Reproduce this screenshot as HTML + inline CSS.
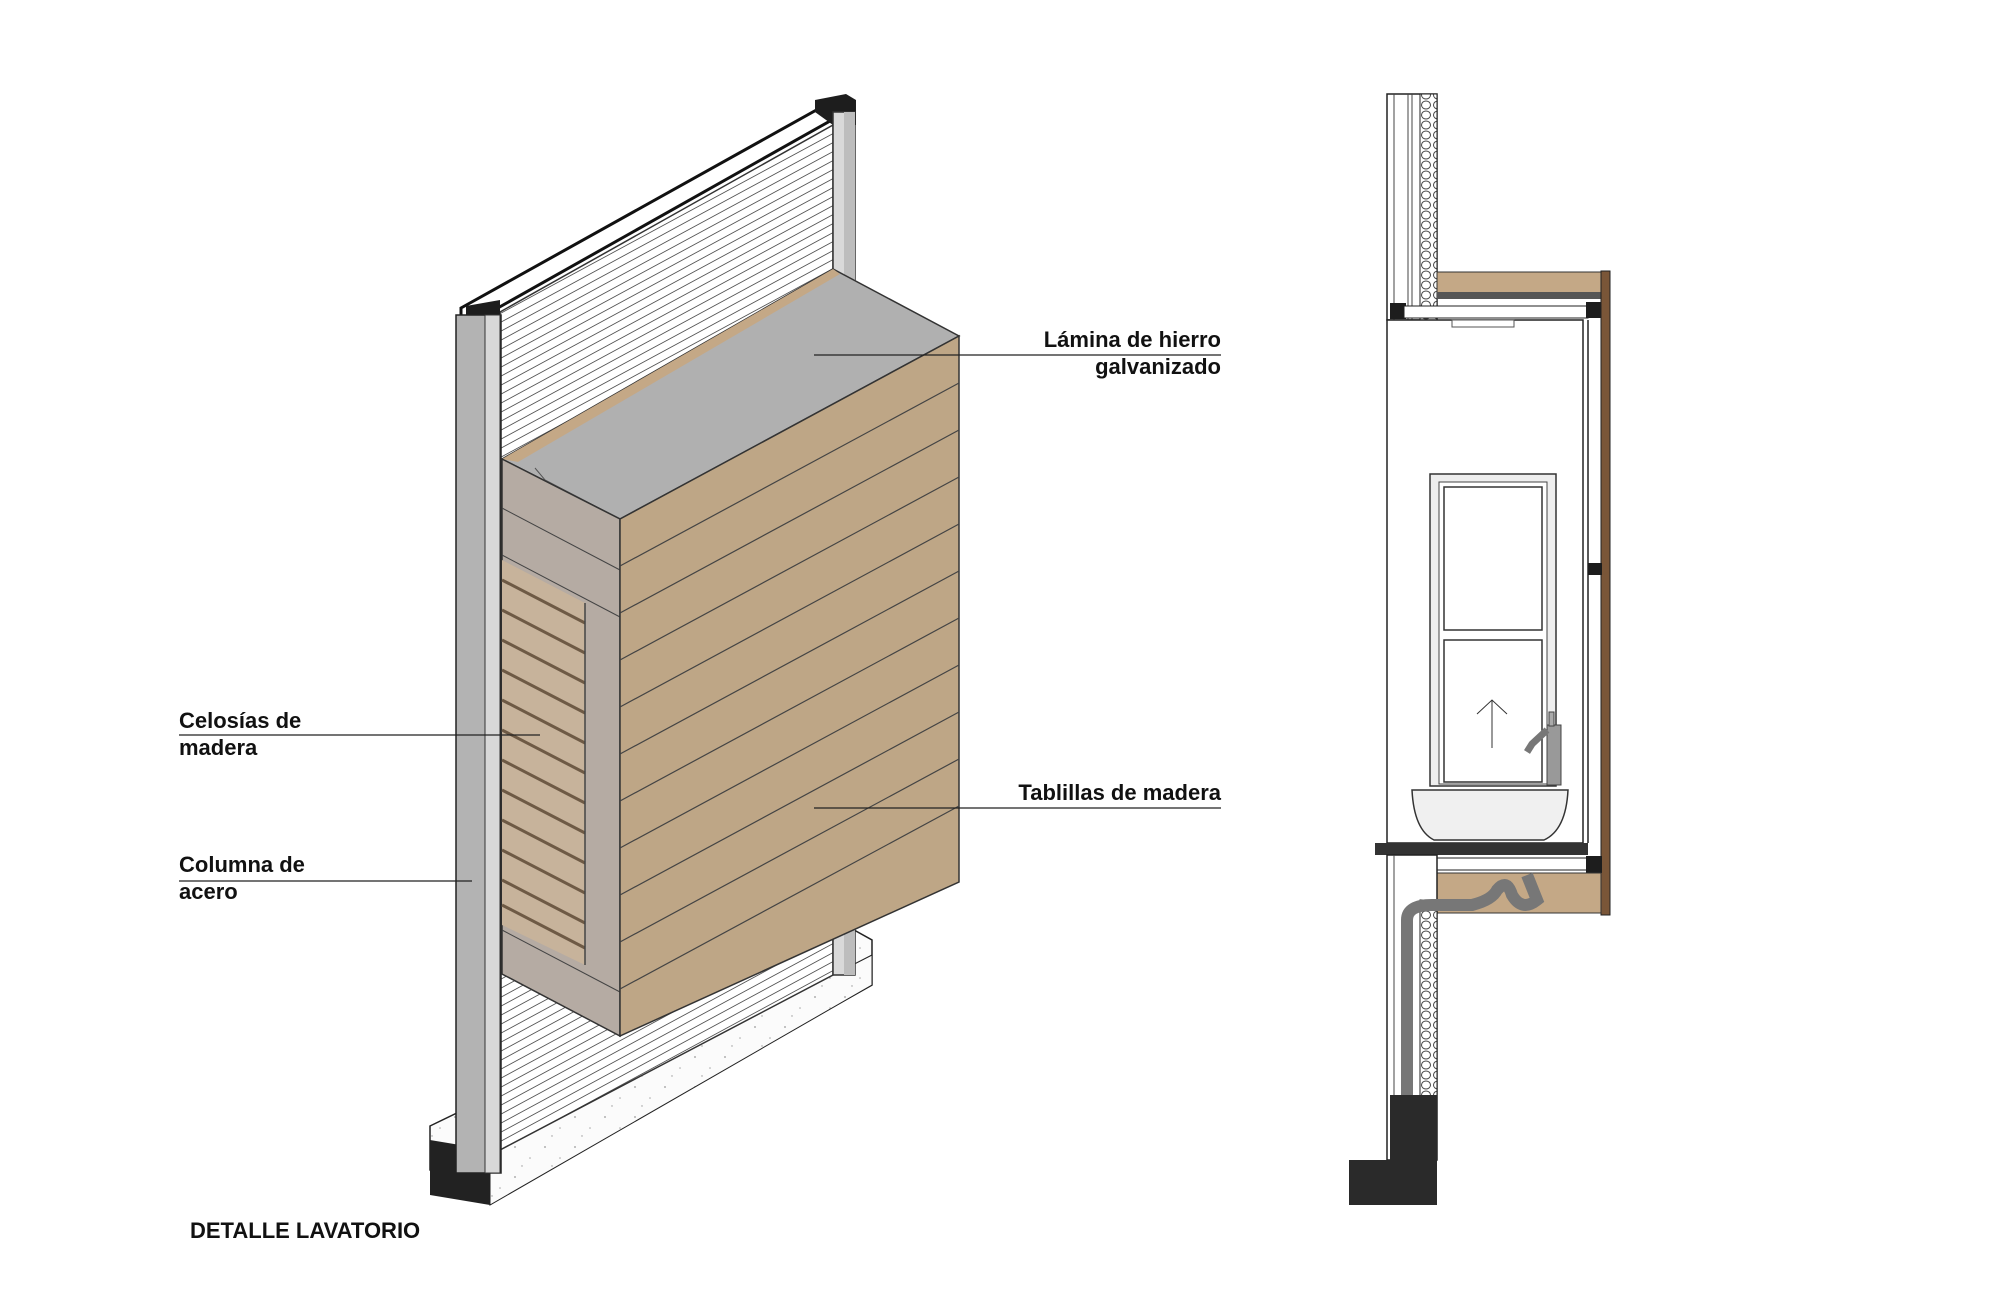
<!DOCTYPE html>
<html><head><meta charset="utf-8"><style>
html,body{margin:0;padding:0;background:#fff}
svg{display:block}
text{font-family:"Liberation Sans",sans-serif;font-weight:bold;font-size:22px;fill:#111}
</style></head><body>
<svg width="2000" height="1294" viewBox="0 0 2000 1294" xmlns="http://www.w3.org/2000/svg">
<defs>
<pattern id="hl" width="40" height="9" patternUnits="userSpaceOnUse" patternTransform="skewY(-28.4)">
<rect width="40" height="9" fill="#fff"/><line x1="0" y1="8" x2="40" y2="8" stroke="#555" stroke-width="1"/>
</pattern>
<pattern id="dots" width="30" height="30" patternUnits="userSpaceOnUse">
<rect width="30" height="30" fill="#fbfbfb"/><circle cx="5" cy="7" r="0.9" fill="#999"/><circle cx="20" cy="18" r="0.8" fill="#aaa"/><circle cx="12" cy="26" r="0.7" fill="#999"/>
</pattern>
<pattern id="coil" width="12" height="10" patternUnits="userSpaceOnUse">
<rect width="12" height="10" fill="#fff"/><ellipse cx="6" cy="5" rx="4.5" ry="4" fill="none" stroke="#444" stroke-width="1"/>
</pattern>
</defs>

<!-- concrete base -->
<polygon points="430,1126 845,925 872,940 872,985 490,1200 430,1170" fill="url(#dots)" stroke="#222" stroke-width="1.5"/>
<polygon points="490,1150 872,955 872,985 490,1205" fill="url(#dots)" stroke="#222" stroke-width="1"/>
<polygon points="430,1140 490,1150 490,1205 430,1195" fill="#222"/>

<!-- wall panel -->
<polygon points="500,312 833,125 833,975 500,1150" fill="url(#hl)" stroke="#333" stroke-width="1.5"/>
<!-- wall top -->
<polygon points="461,308 820,108 846,100 846,112 480,318 461,318" fill="#fff" stroke="#111" stroke-width="3"/>
<polygon points="815,100 846,94 856,100 856,125 833,125 815,112" fill="#1d1d1d"/>
<polygon points="466,306 500,300 500,320 466,320" fill="#1d1d1d"/>
<!-- right column -->
<rect x="833" y="112" width="22" height="863" fill="#d9d9d9" stroke="#333" stroke-width="1.5"/>
<rect x="844" y="112" width="11" height="863" fill="#bdbdbd"/>

<!-- left column -->
<rect x="456" y="315" width="45" height="858" fill="#b3b3b3" stroke="#222" stroke-width="1.5"/>
<rect x="485" y="315" width="15" height="858" fill="#d8d8d8" stroke="#333" stroke-width="1"/>

<!-- box top -->
<polygon points="502,459 833,269 959,336 620,519" fill="#b0b0b0" stroke="#333" stroke-width="1.5"/>
<polygon points="502,459 833,269 840,274 518,462" fill="#c4a886"/>
<polyline points="535,468 545,480 620,519" fill="none" stroke="#555" stroke-width="1"/>
<!-- side face -->
<polygon points="502,459 620,519 620,1036 502,974" fill="#b5aba3" stroke="#333" stroke-width="1.5"/>
<g stroke="#444" stroke-width="1">
<line x1="502" y1="508" x2="620" y2="570"/><line x1="502" y1="555" x2="620" y2="617"/>
<line x1="502" y1="930" x2="620" y2="992"/>
</g>
<!-- louvers -->
<polygon points="502,560 585,603 585,965 502,925" fill="#c7b39b"/>
<g stroke="#6e5a45" stroke-width="3">
<line x1="502" y1="580" x2="585" y2="623"/><line x1="502" y1="610" x2="585" y2="653"/><line x1="502" y1="640" x2="585" y2="683"/>
<line x1="502" y1="670" x2="585" y2="713"/><line x1="502" y1="700" x2="585" y2="743"/><line x1="502" y1="730" x2="585" y2="773"/>
<line x1="502" y1="760" x2="585" y2="803"/><line x1="502" y1="790" x2="585" y2="833"/><line x1="502" y1="820" x2="585" y2="863"/>
<line x1="502" y1="850" x2="585" y2="893"/><line x1="502" y1="880" x2="585" y2="923"/><line x1="502" y1="905" x2="585" y2="948"/>
</g>
<line x1="585" y1="603" x2="585" y2="965" stroke="#444" stroke-width="1.5"/>

<!-- front face -->
<polygon points="620,519 959,336 959,882 620,1036" fill="#bea686" stroke="#333" stroke-width="1.5"/>
<g stroke="#444" stroke-width="1.2">
<line x1="620" y1="566" x2="959" y2="383"/><line x1="620" y1="613" x2="959" y2="430"/><line x1="620" y1="660" x2="959" y2="477"/>
<line x1="620" y1="707" x2="959" y2="524"/><line x1="620" y1="754" x2="959" y2="571"/><line x1="620" y1="801" x2="959" y2="618"/>
<line x1="620" y1="848" x2="959" y2="665"/><line x1="620" y1="895" x2="959" y2="712"/><line x1="620" y1="942" x2="959" y2="759"/>
<line x1="620" y1="989" x2="959" y2="806"/>
</g>

<!-- leaders -->
<g stroke="#222" stroke-width="1.3">
<line x1="814" y1="355" x2="1221" y2="355"/>
<line x1="814" y1="808" x2="1221" y2="808"/>
<line x1="179" y1="735" x2="540" y2="735"/>
<line x1="179" y1="881" x2="472" y2="881"/>
</g>
<text x="1221" y="347" text-anchor="end">Lámina de hierro</text>
<text x="1221" y="374" text-anchor="end">galvanizado</text>
<text x="1221" y="800" text-anchor="end">Tablillas de madera</text>
<text x="179" y="728">Celosías de</text>
<text x="179" y="755">madera</text>
<text x="179" y="872">Columna de</text>
<text x="179" y="899">acero</text>
<text x="190" y="1238">DETALLE LAVATORIO</text>

<!-- ===== section ===== -->
<g transform="translate(-8,0)">
<rect x="1395" y="94" width="50" height="226" fill="#fff" stroke="#222" stroke-width="1.5"/>
<line x1="1402" y1="94" x2="1402" y2="320" stroke="#444"/>
<line x1="1416" y1="94" x2="1416" y2="320" stroke="#444"/>
<line x1="1420" y1="94" x2="1420" y2="320" stroke="#444"/>
<rect x="1428" y="94" width="17" height="226" fill="url(#coil)" stroke="#222"/>
<rect x="1445" y="272" width="164" height="26" fill="#c4a886" stroke="#333"/>
<rect x="1445" y="292" width="164" height="7" fill="#555"/>
<rect x="1398" y="303" width="16" height="16" fill="#1d1d1d"/>
<rect x="1412" y="306" width="184" height="12" fill="#fff" stroke="#222"/>
<rect x="1594" y="302" width="16" height="16" fill="#1d1d1d"/>
<rect x="1609" y="271" width="9" height="644" fill="#7a5638" stroke="#222"/>
<rect x="1395" y="320" width="196" height="523" fill="#fff" stroke="#222" stroke-width="1.5"/>
<line x1="1596" y1="320" x2="1596" y2="843" stroke="#222" stroke-width="1.5"/>
<rect x="1596" y="563" width="14" height="12" fill="#1d1d1d"/>
<rect x="1460" y="320" width="62" height="7" fill="#fff" stroke="#555"/>
<rect x="1438" y="474" width="126" height="312" fill="#eee" stroke="#333" stroke-width="1.5"/>
<rect x="1447" y="482" width="108" height="302" fill="#fff" stroke="#444"/>
<rect x="1452" y="487" width="98" height="143" fill="#fff" stroke="#333" stroke-width="1.5"/>
<rect x="1452" y="640" width="98" height="142" fill="#fff" stroke="#333" stroke-width="1.5"/>
<line x1="1500" y1="748" x2="1500" y2="700" stroke="#333"/>
<polyline points="1485,714 1500,700 1515,714" fill="none" stroke="#333"/>
<rect x="1555" y="725" width="14" height="60" fill="#999" stroke="#444"/>
<rect x="1557" y="712" width="5" height="14" fill="#aaa" stroke="#444"/>
<path d="M1555,730 L1540,744 L1535,752" stroke="#777" stroke-width="7" fill="none"/>
<path d="M1420,790 L1576,790 Q1574,830 1552,840 L1442,840 Q1422,830 1420,790 Z" fill="#f0f0f0" stroke="#333" stroke-width="1.5"/>
<rect x="1383" y="843" width="213" height="12" fill="#333"/>
<rect x="1398" y="855" width="16" height="17" fill="#1d1d1d"/>
<rect x="1412" y="858" width="184" height="12" fill="#fff" stroke="#222"/>
<rect x="1594" y="856" width="16" height="17" fill="#1d1d1d"/>
<rect x="1445" y="873" width="164" height="40" fill="#c4a886" stroke="#333"/>
<rect x="1395" y="855" width="50" height="305" fill="#fff" stroke="#222" stroke-width="1.5"/>
<rect x="1428" y="900" width="17" height="260" fill="url(#coil)" stroke="#222"/>
<line x1="1402" y1="855" x2="1402" y2="1160" stroke="#444"/>
<path d="M1415,1160 L1415,920 Q1415,905 1440,905 L1480,905 Q1500,900 1505,890 Q1515,878 1520,895 Q1530,912 1545,900 L1535,875" fill="none" stroke="#777" stroke-width="12"/>
<rect x="1398" y="1095" width="47" height="105" fill="#2a2a2a"/>
<rect x="1357" y="1160" width="88" height="45" fill="#2a2a2a"/>
</g>
</svg>
</body></html>
